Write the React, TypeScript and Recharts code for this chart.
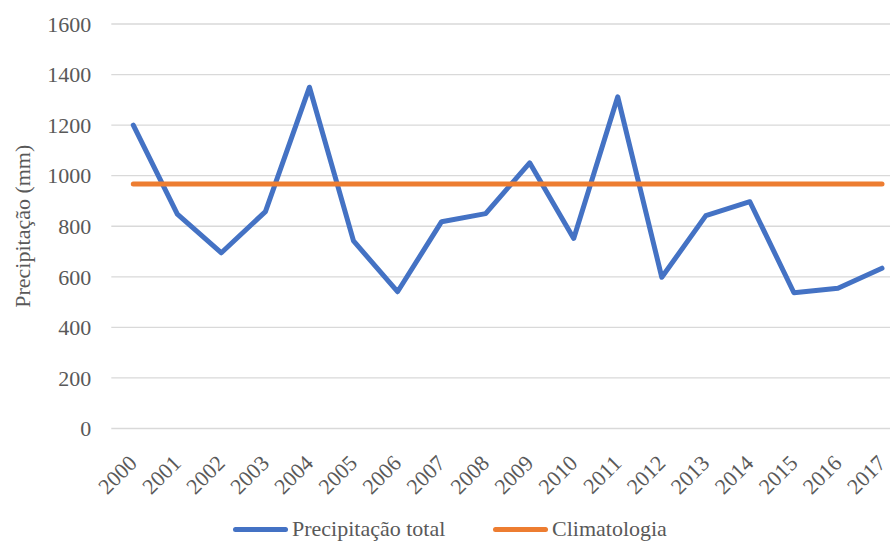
import {
  CartesianGrid,
  Legend,
  Line,
  LineChart,
  XAxis,
  YAxis,
} from "recharts";

const years = [
  "2000", "2001", "2002", "2003", "2004", "2005", "2006", "2007", "2008",
  "2009", "2010", "2011", "2012", "2013", "2014", "2015", "2016", "2017",
];
const precipTotal = [
  1200, 848, 695, 858, 1350, 742, 541, 818, 850,
  1051, 752, 1312, 598, 842, 897, 537, 555, 634,
];
const climatologia = [
  967, 967, 967, 967, 967, 967, 967, 967, 967,
  967, 967, 967, 967, 967, 967, 967, 967, 967,
];
const yTicks = [0, 200, 400, 600, 800, 1000, 1200, 1400, 1600];

const chartData = years.map((year, i) => ({
  year,
  total: precipTotal[i],
  clim: climatologia[i],
}));

const FONT = "Liberation Serif, Tinos, DejaVu Serif, serif";
const TEXT = "#595959";
const BLUE = "#4472C4";
const ORANGE = "#ED7D31";

function YearTick(props: any) {
  const { x, y, payload } = props;
  const px = x + 5;
  const py = y + 28;
  return (
    <text
      x={px}
      y={py}
      textAnchor="end"
      transform={`rotate(-45, ${px}, ${py})`}
      style={{ fill: TEXT, fontSize: 22, fontFamily: FONT }}
    >
      {payload.value}
    </text>
  );
}

function YLabel(props: any) {
  const { viewBox } = props;
  const cx = viewBox.x + 22;
  const cy = viewBox.y + viewBox.height / 2;
  return (
    <text
      x={cx}
      y={cy}
      textAnchor="middle"
      dominantBaseline="central"
      transform={`rotate(-90, ${cx}, ${cy})`}
      style={{ fill: TEXT, fontSize: 22, fontFamily: FONT }}
    >
      Precipitação (mm)
    </text>
  );
}

function LegendBox() {
  const items = [
    { name: "Precipitação total", color: BLUE, left: 233 },
    { name: "Climatologia", color: ORANGE, left: 493 },
  ];
  return (
    <div style={{ position: "relative", height: 32, width: "100%" }}>
      {items.map((it) => (
        <div
          key={it.name}
          style={{
            position: "absolute",
            left: it.left,
            top: 0,
            height: 32,
            display: "flex",
            alignItems: "center",
            fontFamily: FONT,
            fontSize: 22,
            color: TEXT,
            whiteSpace: "nowrap",
          }}
        >
          <span
            style={{
              display: "inline-block",
              width: 55,
              height: 5,
              borderRadius: 3,
              background: it.color,
              marginRight: 4,
            }}
          />
          {it.name}
        </div>
      ))}
    </div>
  );
}

export default function App() {
  return (
    <div
      style={{
        position: "absolute",
        left: 0,
        top: 0,
        width: 890,
        height: 545,
        overflow: "hidden",
        background: "#fff",
        fontFamily: FONT,
      }}
    >
      <LineChart
        width={904}
        height={545}
        data={chartData}
        margin={{ top: 24, right: 0, bottom: 0, left: 0 }}
        style={{ fontFamily: FONT }}
      >
        <CartesianGrid
          vertical={false}
          stroke="#D9D9D9"
          strokeWidth={1.3}
        />
        <XAxis
          dataKey="year"
          interval={0}
          axisLine={false}
          tickLine={false}
          padding={{ left: 22, right: 22 }}
          height={84.5}
          tick={<YearTick />}
        />
        <YAxis
          domain={[0, 1600]}
          ticks={yTicks}
          width={111.3}
          axisLine={false}
          tickLine={false}
          tickSize={0}
          tickMargin={20}
          tick={{ fill: TEXT, fontSize: 22, fontFamily: FONT, style: { fontFamily: FONT } }}
          label={<YLabel />}
        />
        <Legend verticalAlign="bottom" content={<LegendBox />} />
        <Line
          dataKey="total"
          name="Precipitação total"
          stroke={BLUE}
          strokeWidth={5}
          strokeLinecap="round"
          strokeLinejoin="round"
          dot={false}
          activeDot={false}
          isAnimationActive={false}
        />
        <Line
          dataKey="clim"
          name="Climatologia"
          stroke={ORANGE}
          strokeWidth={5}
          strokeLinecap="round"
          strokeLinejoin="round"
          dot={false}
          activeDot={false}
          isAnimationActive={false}
        />
      </LineChart>
    </div>
  );
}
